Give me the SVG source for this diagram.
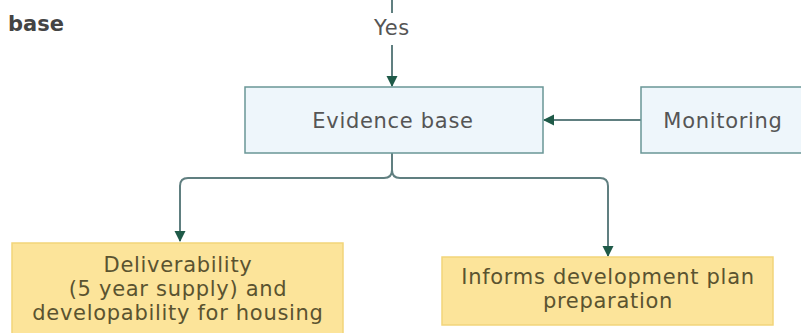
<svg xmlns="http://www.w3.org/2000/svg" width="801" height="333" viewBox="0 0 801 333">
<style>
.t{font-family:"DejaVu Sans",Verdana,sans-serif;font-size:21px;letter-spacing:0.7px;fill:#555;text-anchor:middle}
.ty{font-family:"DejaVu Sans",Verdana,sans-serif;font-size:21px;letter-spacing:0.7px;fill:#5a5330;text-anchor:middle}
.blue{fill:#eef6fb;stroke:#6a9696;stroke-width:1.5}
.yel{fill:#fce49a;stroke:#f2d57a;stroke-width:1.5}
.ln{fill:none;stroke:#607f80;stroke-width:2}
</style>
<defs>
<marker id="ah" markerWidth="12" markerHeight="12" refX="10" refY="6" orient="auto" markerUnits="userSpaceOnUse">
<path d="M0,0.5 L11,6 L0,11.5 Z" fill="#1f5a48"/>
</marker>
</defs>
<rect width="801" height="333" fill="#fff"/>
<text x="8" y="31" style="font-family:'DejaVu Sans',Verdana,sans-serif;font-size:21px;font-weight:bold;fill:#444">base</text>
<g id="connectors">
<line class="ln" x1="392" y1="0" x2="392" y2="13"/>
<text class="t" x="392" y="35">Yes</text>
<line class="ln" x1="392" y1="45" x2="392" y2="86" marker-end="url(#ah)"/>
<line class="ln" x1="641" y1="120" x2="544" y2="120" marker-end="url(#ah)"/>
<path class="ln" d="M392,153 V170 Q392,178 384,178 H188 Q180,178 180,186 V241" marker-end="url(#ah)"/>
<path class="ln" d="M392,170 Q392,178 400,178 H600 Q608,178 608,186 V256" marker-end="url(#ah)"/>
</g>
<g id="evidence">
<rect class="blue" x="245" y="87" width="298" height="66"/>
<text class="t" x="393" y="128">Evidence base</text>
</g>
<g id="monitoring">
<rect class="blue" x="641" y="87" width="180" height="66"/>
<text class="t" x="723" y="128">Monitoring</text>
</g>
<g id="deliverability">
<rect class="yel" x="12" y="243" width="331" height="100"/>
<text class="ty" x="178" y="272">Deliverability</text>
<text class="ty" x="178" y="296">(5 year supply) and</text>
<text class="ty" x="178" y="320">developability for housing</text>
</g>
<g id="informs">
<rect class="yel" x="442" y="257" width="331" height="68"/>
<text class="ty" x="608" y="284">Informs development plan</text>
<text class="ty" x="608" y="308">preparation</text>
</g>
</svg>
